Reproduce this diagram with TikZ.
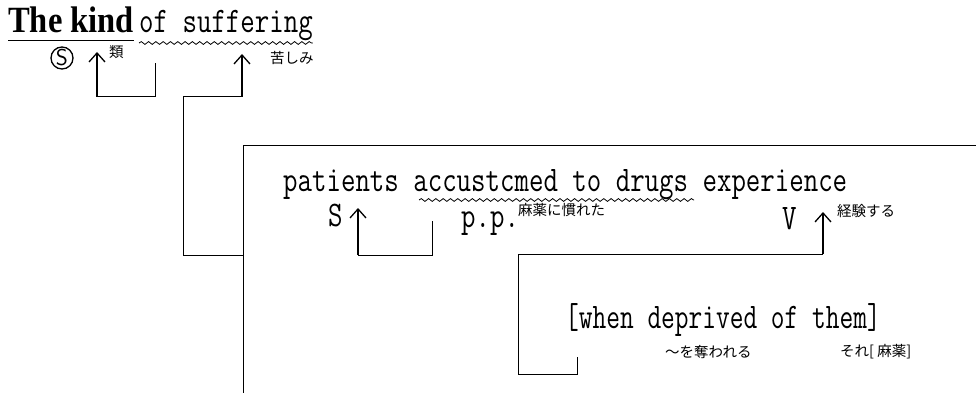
\documentclass[tikz,border=0pt]{standalone}
\usepackage{fontspec}
\newfontfamily\engfont[FakeStretch=0.78]{Latin Modern Mono}
\newfontfamily\brkfont[FakeStretch=0.74]{Latin Modern Mono}
\newfontfamily\headfont[FakeStretch=0.88]{Liberation Serif}
\newfontfamily\jpfont{Noto Sans CJK JP}
\usepackage{tikz}
\usetikzlibrary{arrows.meta, positioning, decorations.pathmorphing}

\begin{document}
\begin{tikzpicture}[
  x=1pt, y=-1pt,
  word/.style={inner sep=0pt, anchor=base west, font=\engfont\fontsize{36}{36}\selectfont},
  gloss/.style={inner sep=0pt, anchor=west, font=\jpfont\fontsize{14.5}{14.5}\selectfont},
  link/.style={line width=1pt},
  up/.style={-{Straight Barb[length=9pt, width=16pt]}, line width=1.3pt},
  wave/.style={decorate, decoration={snake, segment length=7.3pt, amplitude=1.4pt}, line width=0.8pt}
]
\useasboundingbox (0,0) rectangle (976,393);
\node[word, font=\headfont\bfseries\fontsize{37}{37}\selectfont] (kind) at (8,33) {The kind};
\node[word] (suffer) at (139,33) {of suffering};
\draw[link] ([yshift=-8pt]kind.base west) -- ([yshift=-8pt]kind.base east);
\draw[wave] ([yshift=-10pt]suffer.base west) -- ([yshift=-10pt]suffer.base east);
\node[font=\sffamily\fontsize{23}{23}\selectfont, inner sep=0pt] (subj) at (62,58) {S};
\draw[line width=1.3pt] (subj) circle[radius=11pt];
\node[gloss] (kindgloss) at (109,52) {類};
\node[gloss] (suffergloss) at (270,58) {苦しみ};
\coordinate (kind-up) at (97,52);
\coordinate (kind-foot) at (97,97);
\coordinate (of-foot) at (155,63);
\coordinate (suffer-up) at (242,54);
\coordinate (suffer-foot) at (242,97);
\coordinate (clause-in) at (243,255);
\coordinate (box-bl) at (243,393);
\coordinate (box-tr) at (976,145);
\draw[up] (kind-foot) -- (kind-up);
\draw[link] (kind-foot) -| (of-foot);
\draw[up] (suffer-foot) -- (suffer-up);
\draw[link] (suffer-foot) -- ++(-59,0) |- (clause-in);
\draw[link] (box-bl) |- (box-tr);

\node[word] (sent) at (283,191) {patients accustcmed to drugs experience};
\draw[wave] ([xshift=136pt, yshift=-9pt]sent.base west) -- ([xshift=411pt, yshift=-9pt]sent.base west);
\node[word] (s) at (328,226) {S};
\node[word] (pp) at (461,227) {p.p.};
\node[gloss] (accgloss) at (518,210) {麻薬に慣れた};
\node[word] (v) at (782,229) {V};
\node[gloss] (expgloss) at (837,211) {経験する};
\coordinate (pat-up) at (358,208);
\coordinate (pat-foot) at (358,255);
\coordinate (acc-foot) at (432,221);
\coordinate (exp-up) at (823,212);
\coordinate (exp-foot) at (823,254);
\coordinate (when-foot) at (577,357);
\draw[up] (pat-foot) -- (pat-up);
\draw[link] (pat-foot) -| (acc-foot);
\draw[up] (exp-foot) -- (exp-up);
\draw[link] (exp-foot) -| ++(-305,120) -| (when-foot);

\node[word, font=\brkfont\fontsize{36}{36}\selectfont] (when) at (565,328) {[when deprived of them]};
\node[gloss] (deprgloss) at (665,352) {～を奪われる};
\node[gloss] (themgloss) at (840,352) {それ[ 麻薬]};
\end{tikzpicture}
\end{document}
